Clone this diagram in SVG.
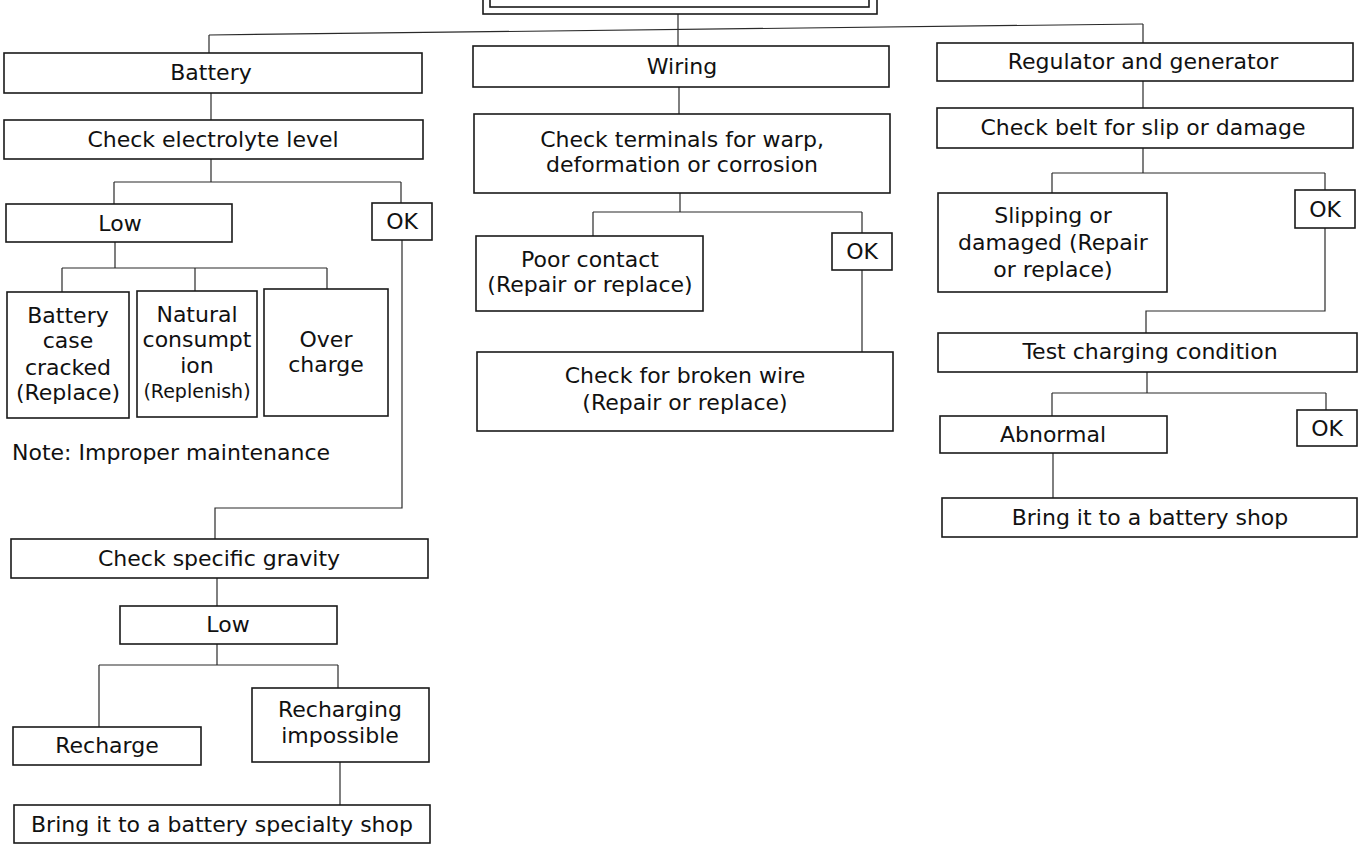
<svg xmlns="http://www.w3.org/2000/svg" width="1363" height="845" viewBox="0 0 1363 845">
<style>
.b{fill:#fff;stroke:#1a1a1a;stroke-width:1.6}
.c{fill:none;stroke:#2a2a2a;stroke-width:1.2}
text{font-family:"DejaVu Sans","Liberation Sans",sans-serif;font-size:22px;fill:#111;text-anchor:middle}
.s{font-size:19px}
.l{text-anchor:start}
</style>
<rect width="1363" height="845" fill="#fff"/>
<g id="connectors" class="c">
<path d="M678,14 V46"/>
<path d="M209,35 L1143,24"/>
<path d="M209,35 V53"/>
<path d="M1143,24 V43"/>
<path d="M211,93 V120"/>
<path d="M211,159 V182 M114,182 H401 M114,182 V204 M401,182 V203"/>
<path d="M115,242 V268 M62,268 H327 M62,268 V292 M195,268 V291 M327,268 V289"/>
<path d="M402,240 V508 H215 V539"/>
<path d="M217,578 V606"/>
<path d="M217,644 V665 M99,665 H338 M99,665 V727 M338,665 V688"/>
<path d="M340,762 V805"/>
<path d="M679,87 V114"/>
<path d="M680,193 V212 M593,212 H862 M593,212 V236 M862,212 V233"/>
<path d="M862,270 V352"/>
<path d="M1143,81 V108"/>
<path d="M1143,148 V173 M1052,173 H1325 M1052,173 V193 M1325,173 V190"/>
<path d="M1325,228 V311 H1146 V333"/>
<path d="M1147,372 V393 M1052,393 H1326 M1052,393 V416 M1326,393 V410"/>
<path d="M1053,453 V498"/>
</g>
<g id="top"><rect class="b" x="483" y="-20" width="394" height="34"/><rect class="b" x="490" y="-20" width="379" height="27"/></g>
<g id="battery"><rect class="b" x="4" y="53" width="418" height="40"/><text x="211" y="80">Battery</text></g>
<g id="check-electrolyte"><rect class="b" x="4" y="120" width="419" height="39"/><text x="213" y="147">Check electrolyte level</text></g>
<g id="low1"><rect class="b" x="6" y="204" width="226" height="38"/><text x="120" y="231">Low</text></g>
<g id="ok1"><rect class="b" x="372" y="203" width="60" height="37"/><text x="402" y="229">OK</text></g>
<g id="case-cracked"><rect class="b" x="7" y="292" width="122" height="126"/><text x="68" y="323">Battery</text><text x="68" y="348">case</text><text x="68" y="375">cracked</text><text x="68" y="400">(Replace)</text></g>
<g id="natural"><rect class="b" x="137" y="291" width="120" height="126"/><text x="197" y="322">Natural</text><text x="197" y="347">consumpt</text><text x="197" y="373">ion</text><text class="s" x="197" y="398">(Replenish)</text></g>
<g id="overcharge"><rect class="b" x="264" y="289" width="124" height="127"/><text x="326" y="347">Over</text><text x="326" y="372">charge</text></g>
<g id="note"><text class="l" x="12" y="460">Note: Improper maintenance</text></g>
<g id="check-gravity"><rect class="b" x="11" y="539" width="417" height="39"/><text x="219" y="566">Check specific gravity</text></g>
<g id="low2"><rect class="b" x="120" y="606" width="217" height="38"/><text x="228" y="632">Low</text></g>
<g id="recharge"><rect class="b" x="13" y="727" width="188" height="38"/><text x="107" y="753">Recharge</text></g>
<g id="recharge-impossible"><rect class="b" x="252" y="688" width="177" height="74"/><text x="340" y="717">Recharging</text><text x="340" y="743">impossible</text></g>
<g id="specialty-shop"><rect class="b" x="14" y="805" width="416" height="38"/><text x="222" y="832">Bring it to a battery specialty shop</text></g>
<g id="wiring"><rect class="b" x="473" y="46" width="416" height="41"/><text x="682" y="74">Wiring</text></g>
<g id="check-terminals"><rect class="b" x="474" y="114" width="416" height="79"/><text x="682" y="147">Check terminals for warp,</text><text x="682" y="172">deformation or corrosion</text></g>
<g id="poor-contact"><rect class="b" x="476" y="236" width="227" height="75"/><text x="590" y="267">Poor contact</text><text x="590" y="292">(Repair or replace)</text></g>
<g id="ok2"><rect class="b" x="832" y="233" width="60" height="37"/><text x="862" y="259">OK</text></g>
<g id="broken-wire"><rect class="b" x="477" y="352" width="416" height="79"/><text x="685" y="383">Check for broken wire</text><text x="685" y="410">(Repair or replace)</text></g>
<g id="regulator"><rect class="b" x="937" y="43" width="416" height="38"/><text x="1143" y="69">Regulator and generator</text></g>
<g id="check-belt"><rect class="b" x="937" y="108" width="416" height="40"/><text x="1143" y="135">Check belt for slip or damage</text></g>
<g id="slipping"><rect class="b" x="938" y="193" width="229" height="99"/><text x="1053" y="223">Slipping or</text><text x="1053" y="250">damaged (Repair</text><text x="1053" y="277">or replace)</text></g>
<g id="ok3"><rect class="b" x="1295" y="190" width="60" height="38"/><text x="1325" y="217">OK</text></g>
<g id="test-charging"><rect class="b" x="938" y="333" width="419" height="39"/><text x="1150" y="359">Test charging condition</text></g>
<g id="abnormal"><rect class="b" x="940" y="416" width="227" height="37"/><text x="1053" y="442">Abnormal</text></g>
<g id="ok4"><rect class="b" x="1297" y="410" width="60" height="36"/><text x="1327" y="436">OK</text></g>
<g id="battery-shop"><rect class="b" x="942" y="498" width="415" height="39"/><text x="1150" y="525">Bring it to a battery shop</text></g>
</svg>
